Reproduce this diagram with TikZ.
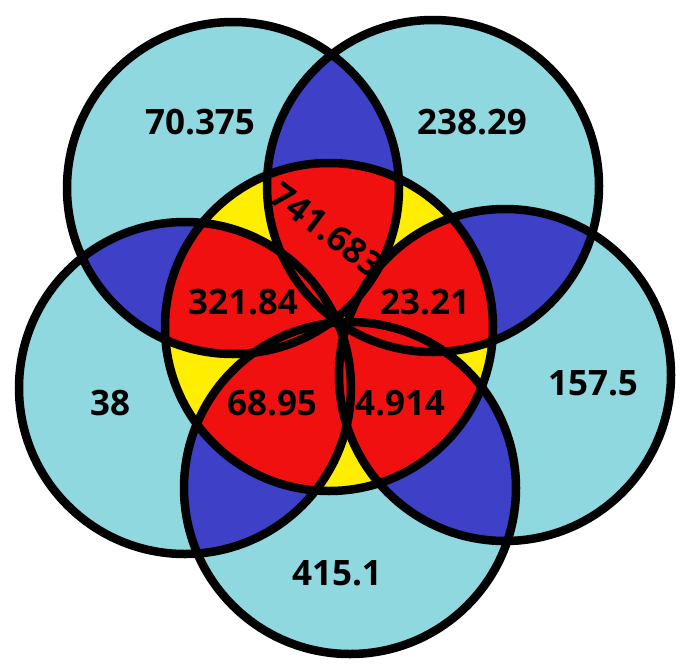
\documentclass[tikz,border=0pt]{standalone}
\usepackage{fontspec}
\setmainfont{Open Sans}

\definecolor{petalcyan}{RGB}{143,216,223}
\definecolor{lensblue}{RGB}{62,64,200}
\definecolor{corered}{RGB}{240,16,16}
\definecolor{coreyellow}{RGB}{255,238,0}

\begin{document}
\begin{tikzpicture}[x=1pt, y=-1pt,
    ring/.style={draw=black, line width=8.5pt},
    num/.style={font=\fontsize{35}{40}\selectfont\bfseries, text=black, inner sep=0pt}]

    \useasboundingbox (0,0) rectangle (685,667);
    \def\Rcore{164}
    \def\R{166}

    % --- Circle centres ---
    \coordinate (c0) at (329,327);
    \coordinate (c1) at (233,188);
    \coordinate (c2) at (433,186);
    \coordinate (c3) at (505,375);
    \coordinate (c4) at (350,488);
    \coordinate (c5) at (185,388);

    % --- 1. Outer petals ---
    \foreach \i in {1,...,5}
        \fill[petalcyan] (c\i) circle (\R);
    \fill[white] (c0) circle (\Rcore);

    % --- 2. Core: single overlaps ---
    \foreach \i in {1,...,5} {
        \begin{scope}
            \clip (c0) circle (\Rcore);
            \fill[coreyellow] (c\i) circle (\R);
        \end{scope}
    }

    % --- 3. Pairwise lenses (blue outside, red inside the core) ---
    \foreach \a/\b in {1/2,2/3,3/4,4/5,5/1} {
        \begin{scope}
            \clip (c\a) circle (\R);
            \fill[lensblue] (c\b) circle (\R);
        \end{scope}
        \begin{scope}
            \clip (c0) circle (\Rcore);
            \clip (c\a) circle (\R);
            \fill[corered] (c\b) circle (\R);
        \end{scope}
    }

    % --- 4. Outlines ---
    \draw[ring] (c0) circle (\Rcore);
    \foreach \i in {1,...,5}
        \draw[ring] (c\i) circle (\R);

    % --- 5. Values ---
    \node[num] (vTL) at (200,122) {70.375};
    \node[num] (vTR) at (472,122) {238.29};
    \node[num] (vR)  at (593,383) {157.5};
    \node[num] (vL)  at (110,403) {38};
    \node[num] (vB)  at (337,573) {415.1};
    \node[num, rotate=-37] (vTop) at (327,230) {741.683};
    \node[num] (vUL) at (243,302) {321.84};
    \node[num] (vUR) at (425,302) {23.21};
    \node[num] (vLL) at (272,403) {68.95};
    \node[num] (vLR) at (400,403) {4.914};

\end{tikzpicture}
\end{document}
